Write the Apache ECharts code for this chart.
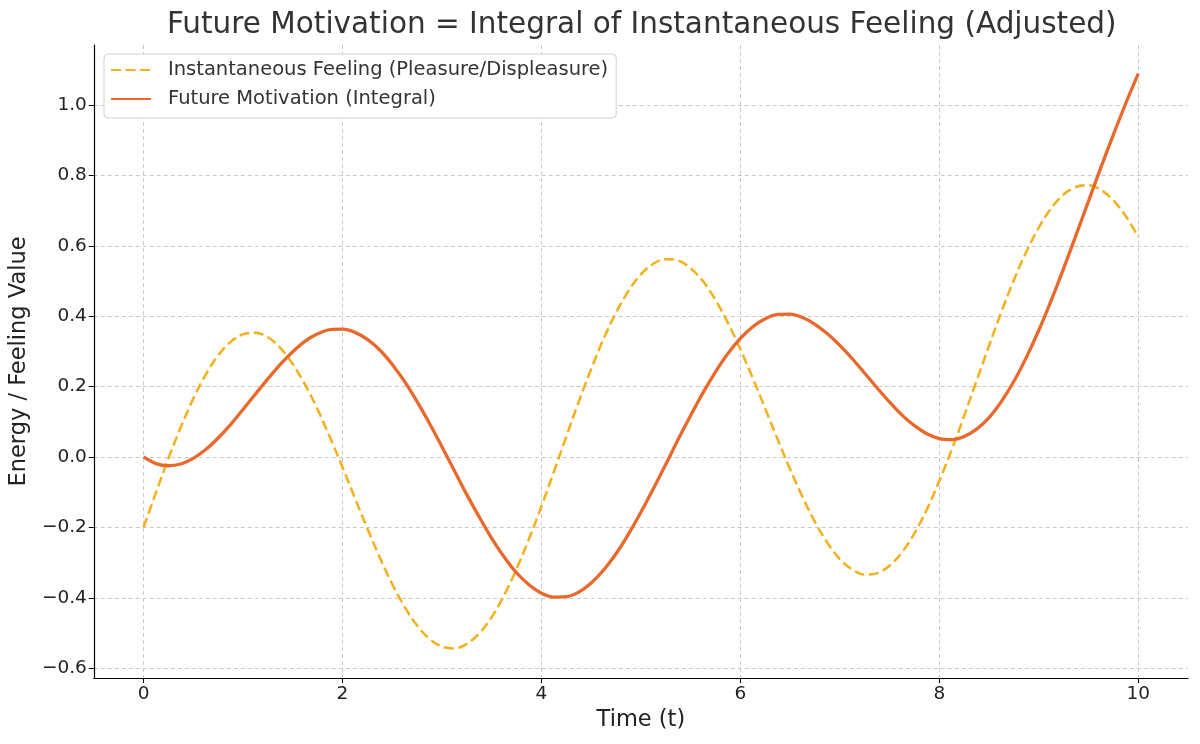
<!DOCTYPE html>
<html>

<head>
    <meta charset="utf-8">
    <title>Future Motivation</title>
    <script src="https://cdn.jsdelivr.net/npm/echarts@6/dist/echarts.min.js"></script>
    <style>
        html, body { margin: 0; padding: 0; background: #fff; }
    </style>
</head>

<body>
    <div id="main" style="width: 1200px;height:744px;"></div>
    <script type="text/javascript">
        // time axis, sampled every 0.125
        var times = [0, 0.125, 0.25, 0.375, 0.5, 0.625, 0.75, 0.875, 1, 1.125, 1.25, 1.375, 1.5, 1.625, 1.75, 1.875,
            2, 2.125, 2.25, 2.375, 2.5, 2.625, 2.75, 2.875, 3, 3.125, 3.25, 3.375, 3.5, 3.625, 3.75, 3.875,
            4, 4.125, 4.25, 4.375, 4.5, 4.625, 4.75, 4.875, 5, 5.125, 5.25, 5.375, 5.5, 5.625, 5.75, 5.875,
            6, 6.125, 6.25, 6.375, 6.5, 6.625, 6.75, 6.875, 7, 7.125, 7.25, 7.375, 7.5, 7.625, 7.75, 7.875,
            8, 8.125, 8.25, 8.375, 8.5, 8.625, 8.75, 8.875, 9, 9.125, 9.25, 9.375, 9.5, 9.625, 9.75, 9.875, 10];

        // dashed curve
        var feeling = [-0.200, -0.101, -0.004, 0.085, 0.166, 0.234, 0.289, 0.327,
            0.349, 0.353, 0.340, 0.310, 0.264, 0.205, 0.135, 0.055,
            -0.029, -0.117, -0.203, -0.286, -0.361, -0.426, -0.479, -0.517,
            -0.539, -0.544, -0.531, -0.501, -0.455, -0.393, -0.318, -0.233,
            -0.140, -0.042, 0.058, 0.157, 0.250, 0.336, 0.410, 0.472,
            0.519, 0.549, 0.562, 0.558, 0.536, 0.499, 0.446, 0.381,
            0.306, 0.224, 0.137, 0.050, -0.035, -0.114, -0.185, -0.244,
            -0.290, -0.320, -0.334, -0.330, -0.309, -0.271, -0.217, -0.149,
            -0.068, 0.021, 0.117, 0.217, 0.316, 0.413, 0.503, 0.583,
            0.652, 0.707, 0.746, 0.767, 0.772, 0.759, 0.729, 0.684, 0.625];

        // solid curve
        var motivation = [0.000, -0.019, -0.025, -0.020, -0.004, 0.021, 0.054, 0.092,
            0.135, 0.179, 0.222, 0.263, 0.299, 0.329, 0.350, 0.362,
            0.363, 0.354, 0.334, 0.304, 0.263, 0.214, 0.157, 0.095,
            0.029, -0.039, -0.107, -0.171, -0.231, -0.284, -0.329, -0.363,
            -0.387, -0.398, -0.397, -0.384, -0.358, -0.321, -0.275, -0.219,
            -0.157, -0.090, -0.021, 0.050, 0.118, 0.183, 0.242, 0.294,
            0.337, 0.370, 0.393, 0.405, 0.406, 0.396, 0.377, 0.350,
            0.317, 0.279, 0.238, 0.196, 0.156, 0.119, 0.089, 0.066,
            0.052, 0.049, 0.058, 0.079, 0.112, 0.158, 0.215, 0.283,
            0.360, 0.445, 0.536, 0.631, 0.727, 0.823, 0.916, 1.005, 1.089];

        var xTicks = [0, 2, 4, 6, 8, 10];
        var yTicks = [-0.6, -0.4, -0.2, 0, 0.2, 0.4, 0.6, 0.8, 1.0];

        function pairs(ys) {
            var out = [];
            for (var i = 0; i < times.length; i++) {
                out.push([times[i], ys[i]]);
            }
            return out;
        }

        var font = 'DejaVu Sans';
        var gridLine = { color: '#cacaca', type: [4, 3], width: 1 };
        var myChart = echarts.init(document.getElementById('main'));

        var option = {
            backgroundColor: '#fff',
            animation: false,
            title: {
                text: 'Future Motivation = Integral of Instantaneous Feeling (Adjusted)',
                left: 162,
                top: 5,
                textStyle: {
                    fontFamily: font,
                    fontSize: 29.5,
                    fontWeight: 'normal',
                    color: '#333'
                }
            },
            legend: {
                orient: 'vertical',
                left: 104,
                top: 54,
                padding: [6, 8, 9, 6],
                itemGap: 9,
                itemWidth: 40,
                itemHeight: 14,
                backgroundColor: '#fff',
                borderColor: '#d0d0d0',
                borderWidth: 1,
                borderRadius: 4,
                itemStyle: { opacity: 0 },
                textStyle: {
                    fontFamily: font,
                    fontSize: 19.5,
                    lineHeight: 20,
                    color: '#333',
                    padding: [0, 0, 0, 12]
                },
                data: ['Instantaneous Feeling (Pleasure/Displeasure)', 'Future Motivation (Integral)']
            },
            grid: {
                left: 93,
                right: 12,
                top: 45,
                bottom: 66
            },
            xAxis: {
                type: 'value',
                min: -0.5,
                max: 10.5,
                name: 'Time (t)',
                nameLocation: 'middle',
                nameGap: 27,
                nameTextStyle: {
                    fontFamily: font,
                    fontSize: 22.5,
                    color: '#222'
                },
                axisLine: {
                    onZero: false,
                    lineStyle: { color: '#000', width: 1.2 }
                },
                axisTick: {
                    inside: false,
                    length: 5,
                    customValues: xTicks,
                    lineStyle: { color: '#000' }
                },
                axisLabel: {
                    customValues: xTicks,
                    margin: 7,
                    fontFamily: font,
                    fontSize: 18.5,
                    color: '#222'
                },
                splitLine: {
                    show: true,
                    lineStyle: gridLine
                }
            },
            yAxis: {
                type: 'value',
                min: -0.628,
                max: 1.1705,
                name: 'Energy / Feeling Value',
                nameLocation: 'middle',
                nameGap: 61,
                nameTextStyle: {
                    fontFamily: font,
                    fontSize: 22.5,
                    color: '#222'
                },
                axisLine: {
                    show: true,
                    onZero: false,
                    lineStyle: { color: '#000', width: 1.2 }
                },
                axisTick: {
                    show: true,
                    inside: false,
                    length: 5,
                    customValues: yTicks,
                    lineStyle: { color: '#000' }
                },
                axisLabel: {
                    customValues: yTicks,
                    margin: 7,
                    fontFamily: font,
                    fontSize: 18.5,
                    color: '#222',
                    formatter: function (v) {
                        return v.toFixed(1).replace('-', '\u2212');
                    }
                },
                splitLine: {
                    show: true,
                    lineStyle: gridLine
                }
            },
            series: [{
                name: 'Instantaneous Feeling (Pleasure/Displeasure)',
                type: 'line',
                data: pairs(feeling),
                smooth: 0.35,
                symbol: 'none',
                z: 2,
                lineStyle: {
                    color: '#f4b01a',
                    width: 2.5,
                    type: [10, 4.5]
                },
                itemStyle: { color: '#f4b01a' }
            }, {
                name: 'Future Motivation (Integral)',
                type: 'line',
                data: pairs(motivation),
                smooth: 0.35,
                symbol: 'none',
                z: 3,
                lineStyle: {
                    color: '#e8692b',
                    width: 3.3
                },
                itemStyle: { color: '#e8692b' }
            }]
        };

        myChart.setOption(option);
    </script>
</body>

</html>
